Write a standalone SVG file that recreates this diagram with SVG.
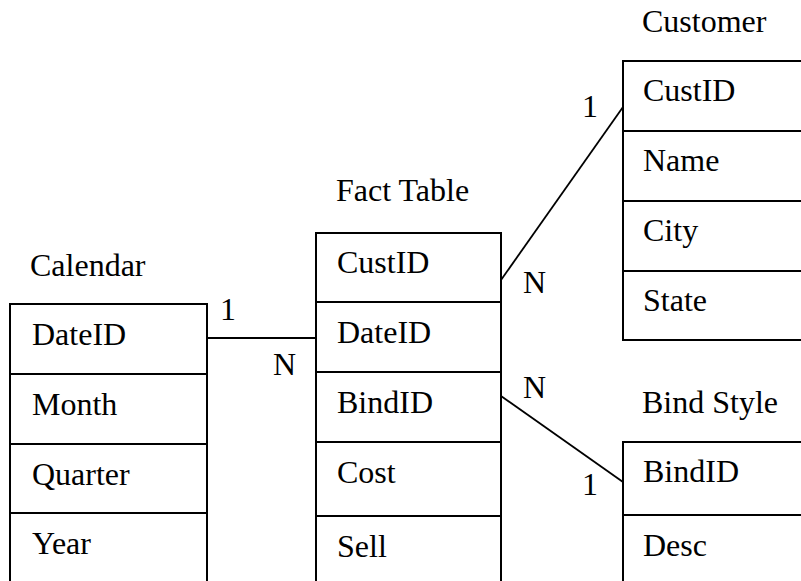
<svg xmlns="http://www.w3.org/2000/svg" width="801" height="581" viewBox="0 0 801 581">
<style>
  .box { fill: #ffffff; stroke: #000000; stroke-width: 2; }
  .div { stroke: #000000; stroke-width: 2; }
  .conn { stroke: #000000; stroke-width: 1.8; fill: none; }
  text { font-family: "Liberation Serif", "Times New Roman", serif; font-size: 32px; fill: #000000; }
</style>
<rect width="801" height="581" fill="#ffffff"/>
<g id="calendar">
  <text x="30" y="276">Calendar</text>
  <rect class="box" x="10" y="304" width="197" height="290"/>
  <line class="div" x1="10" y1="374" x2="207" y2="374"/>
  <line class="div" x1="10" y1="444" x2="207" y2="444"/>
  <line class="div" x1="10" y1="513" x2="207" y2="513"/>
  <text x="32" y="345">DateID</text>
  <text x="32" y="415">Month</text>
  <text x="32" y="485">Quarter</text>
  <text x="32" y="554">Year</text>
</g>
<g id="fact-table">
  <text x="336" y="201">Fact Table</text>
  <rect class="box" x="316" y="233" width="185" height="360"/>
  <line class="div" x1="316" y1="302" x2="501" y2="302"/>
  <line class="div" x1="316" y1="372" x2="501" y2="372"/>
  <line class="div" x1="316" y1="442" x2="501" y2="442"/>
  <line class="div" x1="316" y1="516" x2="501" y2="516"/>
  <text x="337" y="273">CustID</text>
  <text x="337" y="343">DateID</text>
  <text x="337" y="413">BindID</text>
  <text x="337" y="483">Cost</text>
  <text x="337" y="557">Sell</text>
</g>
<g id="customer">
  <text x="642" y="32">Customer</text>
  <rect class="box" x="623" y="61" width="200" height="279"/>
  <line class="div" x1="623" y1="131" x2="823" y2="131"/>
  <line class="div" x1="623" y1="201" x2="823" y2="201"/>
  <line class="div" x1="623" y1="271" x2="823" y2="271"/>
  <text x="643" y="101">CustID</text>
  <text x="643" y="171">Name</text>
  <text x="643" y="241">City</text>
  <text x="643" y="311">State</text>
</g>
<g id="bind-style">
  <text x="642" y="413">Bind Style</text>
  <rect class="box" x="623" y="442" width="200" height="160"/>
  <line class="div" x1="623" y1="515" x2="823" y2="515"/>
  <text x="643" y="482">BindID</text>
  <text x="643" y="556">Desc</text>
</g>
<g id="connectors">
  <line class="conn" x1="207" y1="338" x2="316" y2="338"/>
  <line class="conn" x1="501" y1="280" x2="623" y2="107"/>
  <line class="conn" x1="501" y1="396" x2="623" y2="482"/>
  <text x="220" y="320">1</text>
  <text x="273" y="375">N</text>
  <text x="582" y="117">1</text>
  <text x="523" y="293">N</text>
  <text x="523" y="398">N</text>
  <text x="582" y="495">1</text>
</g>
</svg>
